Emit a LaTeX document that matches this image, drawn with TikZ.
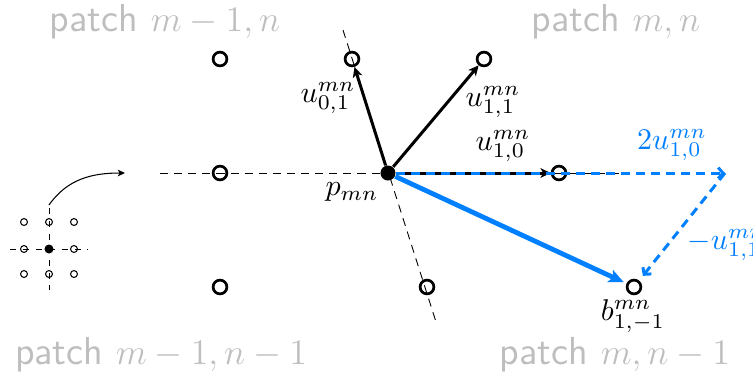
\documentclass[tikz,border=0pt]{standalone}
\usetikzlibrary{arrows.meta}
\definecolor{myblue}{RGB}{0,128,255}
\definecolor{patchgray}{RGB}{190,190,190}
\begin{document}
\begin{tikzpicture}[x=0.3333pt,y=-0.3333pt,
  lat/.style={circle,draw,line width=0.9pt,inner sep=0pt,minimum size=4.6pt},
  ctr/.style={circle,fill,inner sep=0pt,minimum size=5pt},
  small/.style={circle,draw,line width=0.35pt,inner sep=0pt,minimum size=2.3pt},
  smallctr/.style={circle,fill,inner sep=0pt,minimum size=3pt},
  vec/.style={line width=1pt,-{Stealth[length=3.4pt,width=3.2pt,inset=0.9pt]}},
  bvec/.style={myblue,line width=1.6pt,-{Stealth[length=5pt,width=4.4pt,inset=1.2pt]}},
  bdash/.style={myblue,line width=1pt,dash pattern=on 3pt off 2pt,-{Straight Barb[length=1.6pt,width=3.6pt]}},
  thindash/.style={line width=0.3pt,dash pattern=on 2.7pt off 2pt},
  icondash/.style={line width=0.3pt,dash pattern=on 2pt off 2.3pt},
  patch/.style={text=patchgray,font=\fontsize{13}{15}\selectfont\sffamily},
  lbl/.style={inner sep=0pt}
]
\useasboundingbox (0,0) rectangle (753,378);

% patch labels
\node[patch] (pl1) at (165,22) {patch $m-1,n$};
\node[patch] (pl2) at (616,22) {patch $m,n$};
\node[patch] (pl3) at (161,355) {patch $m-1,n-1$};
\node[patch] (pl4) at (615,355) {patch $m,n-1$};

% lattice dashed lines
\coordinate (hl) at (160,173);
\coordinate (hr) at (620,173);
\coordinate (ot) at (343,30);
\coordinate (ob) at (437,325);
\draw[thindash] (hl) -- (hr);
\draw[thindash] (ot) -- (ob);

% lattice points
\node[lat] (A) at (220,59) {};
\node[lat] (B) at (352,59) {};
\node[lat] (C) at (484,59) {};
\node[lat] (D) at (220,173) {};
\node[lat] (E) at (559,173) {};
\node[lat] (F) at (220,287) {};
\node[lat] (G) at (427,287) {};
\node[lat] (H) at (634,287) {};
\node[ctr] (P) at (388,173) {};
\coordinate (T) at (725,173);

% vectors
\draw[vec] (P) -- (B);
\draw[vec] (P) -- (C);
\draw[vec] (P) -- (E);
\draw[bvec,shorten >=1pt] (P) -- (H);
\draw[bdash] (P) -- (T);
\draw[bdash,shorten >=2pt] (T) -- (H);

% labels
\node[lbl] (l01) at (328,98) {$u^{mn}_{0,1}$};
\node[lbl] (l11) at (493,102) {$u^{mn}_{1,1}$};
\node[lbl] (l10) at (503,146) {$u^{mn}_{1,0}$};
\node[lbl] (lp) at (352,192) {$p_{mn}$};
\node[lbl,text=myblue] (l2u) at (672,145) {$2u^{mn}_{1,0}$};
\node[lbl,text=myblue,anchor=west] (lmu) at (687,245) {$-u^{mn}_{1,1}$};
\node[lbl] (lb) at (633,316) {$b^{mn}_{1,-1}$};

% icon
\coordinate (iv1) at (49,208);
\coordinate (iv2) at (49,290);
\coordinate (ih1) at (10,249);
\coordinate (ih2) at (88,249);
\draw[icondash] (iv1) -- (iv2);
\draw[icondash] (ih1) -- (ih2);
\node[small] (s11) at (24,222) {};
\node[small] (s21) at (49,222) {};
\node[small] (s31) at (74,222) {};
\node[small] (s12) at (24,249) {};
\node[small] (s32) at (74,249) {};
\node[small] (s13) at (24,274) {};
\node[small] (s23) at (49,274) {};
\node[small] (s33) at (74,274) {};
\node[smallctr] (s22) at (49,249) {};
\coordinate (as) at (49,205);
\coordinate (ae) at (125,173);
\draw[line width=0.35pt,-{Stealth[length=2.4pt,width=2.2pt,inset=0.6pt]}] (as) to[out=55,in=180] (ae);
\end{tikzpicture}
\end{document}
